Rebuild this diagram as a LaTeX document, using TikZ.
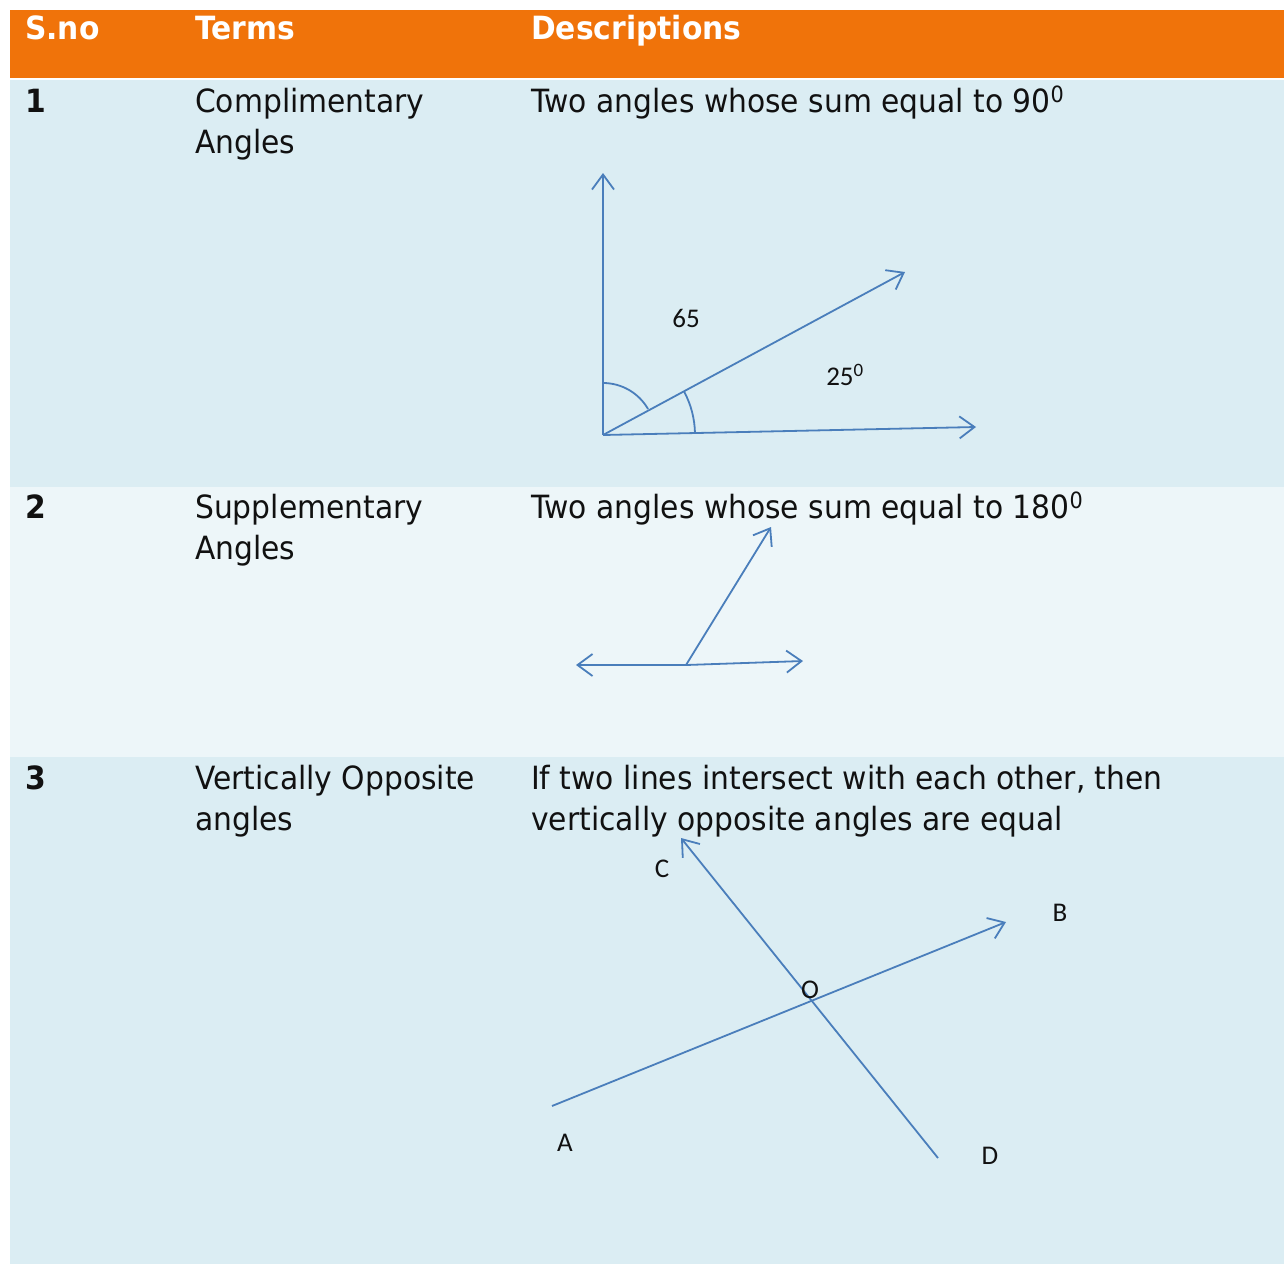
\documentclass[tikz,border=0pt]{standalone}
\usepackage{fontspec}
\setmainfont{DejaVu Sans}[FakeStretch=0.93]
\newfontfamily\figfont{Carlito}
\usetikzlibrary{arrows.meta,positioning}
\definecolor{hdrorange}{HTML}{F0730A}
\definecolor{rowblue}{HTML}{DBEDF3}
\definecolor{rowpale}{HTML}{EDF6F9}
\definecolor{rayblue}{HTML}{4A7EBB}
\definecolor{inktext}{HTML}{111111}

\begin{document}
\begin{tikzpicture}[x=1pt,y=1pt,>={Straight Barb[length=15pt,width=22pt]},
band/.style={
draw=none,
rectangle,
anchor=north west,
inner sep=0pt,
minimum width=1274pt,
},
cell/.style={
anchor=base west,
inner sep=0pt,
align=left,
text=inktext,
font=\fontsize{32}{41}\selectfont,
},
headcell/.style={
cell,
text=white,
font=\fontsize{32}{41}\selectfont\bfseries,
},
ray/.style={
draw=rayblue,
line width=1.8pt,
},
tag/.style={
inner sep=0pt,
text=inktext,
font=\figfont\fontsize{27}{30}\selectfont,
}
]
\fill[white] (0,0) rectangle (1284,-1264);
\useasboundingbox (0,0) rectangle (1284,-1264);

% rows of the table
\node [band,fill=hdrorange,minimum height=68pt] (hdr) at (10,-10) {};
\node [band,fill=rowblue,minimum height=407pt] (rowA) at (10,-80) {};
\node [band,fill=rowpale,minimum height=270pt] (rowB) at (10,-487) {};
\node [band,fill=rowblue,minimum height=507pt] (rowC) at (10,-757) {};

\node [headcell] (hSno) at (25,-39) {S.no};
\node [headcell] (hTerms) at (195,-39) {Terms};
\node [headcell] (hDesc) at (531,-39) {Descriptions};

% two-line cells sit on the baseline of their last line
\node [headcell,text=inktext] (numA) at (25,-112) {1};
\node [cell] (termA) at (195,-153) {Complimentary\\Angles};
\node [cell] (descA) at (531,-112) {Two angles whose sum equal to 90\textsuperscript{0}};

\node [headcell,text=inktext] (numB) at (25,-518) {2};
\node [cell] (termB) at (195,-559) {Supplementary\\Angles};
\node [cell] (descB) at (531,-518) {Two angles whose sum equal to 180\textsuperscript{0}};

\node [headcell,text=inktext] (numC) at (25,-789) {3};
\node [cell] (termC) at (195,-830) {Vertically Opposite\\angles};
\node [cell] (descC) at (531,-830) {If two lines intersect with each other, then\\vertically opposite angles are equal};

% complementary angles
\coordinate (cpO) at (603,-435);
\coordinate (cpUp) at (603,-173);
\coordinate (cpMid) at (905,-272);
\coordinate (cpRight) at (976,-427);
\draw [ray,->] (cpO) -- (cpUp);
\draw [ray,->] (cpO) -- (cpMid);
\draw [ray,->] (cpO) -- (cpRight);
\draw [ray] ([shift={(90:52)}]cpO) arc[start angle=90,end angle=30,radius=52];
\draw [ray] ([shift={(28:92)}]cpO) arc[start angle=28,end angle=1,radius=92];
\node [tag] (cpBig) at (686,-318) {65};
\node [tag] (cpSmall) at (845,-375) {25\textsuperscript{0}};

% supplementary angles
\coordinate (spO) at (686,-665);
\coordinate (spLeft) at (576,-665);
\coordinate (spRight) at (803,-661);
\coordinate (spUp) at (771,-527);
\draw [ray,->] (spO) -- (spLeft);
\draw [ray,->] (spO) -- (spRight);
\draw [ray,->] (spO) -- (spUp);

% vertically opposite angles
\coordinate (vA) at (552,-1106);
\coordinate (vB) at (1006,-922);
\coordinate (vC) at (681,-838);
\coordinate (vD) at (938,-1158);
\draw [ray,->] (vA) -- (vB);
\draw [ray,->] (vD) -- (vC);
\node [tag] (lblA) at (565,-1143) {A};
\node [tag] (lblB) at (1060,-913) {B};
\node [tag] (lblC) at (662,-869) {C};
\node [tag] (lblD) at (990,-1156) {D};
\node [tag] (lblO) at (810,-990) {O};
\end{tikzpicture}
\end{document}
